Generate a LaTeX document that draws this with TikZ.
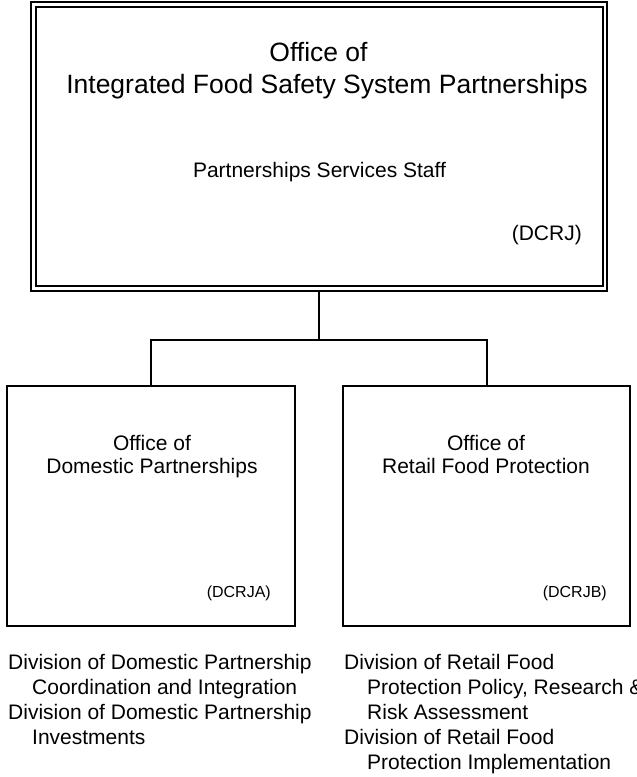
\documentclass[tikz,border=0pt]{standalone}
\usepackage{fontspec}
\setmainfont{Liberation Sans}
\begin{document}
\begin{tikzpicture}[x=1pt,y=-1pt,
  box/.style={draw=black,line width=2pt,minimum width=#1,inner sep=0pt,outer sep=0pt},
  bigtxt/.style={anchor=base,inner sep=0pt,font=\fontsize{26.5}{33}\selectfont},
  midtxt/.style={anchor=base,inner sep=0pt,font=\fontsize{21}{25}\selectfont},
  smalltxt/.style={anchor=base,inner sep=0pt,font=\fontsize{16}{19}\selectfont},
  listtxt/.style={anchor=base west,inner sep=0pt,font=\fontsize{21}{25}\selectfont},
  conn/.style={draw=black,line width=2pt}]
\useasboundingbox (0,0) rectangle (637,777);
\clip (0,0) rectangle (637,777);
% top box (double border)
\node[box=576pt,minimum height=289pt,line width=2.6pt] (top) at (319,146.5) {};
\node[box=567pt,minimum height=279pt,line width=1.8pt] (topin) at (319.5,146.5) {};
\node[bigtxt] (t1) at (318.5,61) {Office of};
\node[bigtxt] (t2) at (327,93) {Integrated Food Safety System Partnerships};
\node[midtxt] (t3) at (319.5,177) {Partnerships Services Staff};
\node[midtxt,anchor=base east] (t4) at (582,240) {(DCRJ)};
% lower boxes
\node[box=288pt,minimum height=240pt] (L) at (151,506) {};
\node[box=287pt,minimum height=240pt] (R) at (486.5,506) {};
\node[midtxt] (l1) at (152,450) {Office of};
\node[midtxt] (l2) at (152,473) {Domestic Partnerships};
\node[smalltxt,anchor=base east] (l3) at (271,597) {(DCRJA)};
\node[midtxt] (r1) at (486,450) {Office of};
\node[midtxt] (r2) at (486,473) {Retail Food Protection};
\node[smalltxt,anchor=base east] (r3) at (607,597) {(DCRJB)};
% connectors
\coordinate (j) at (319,340);
\draw[conn] (top.south) -- (j);
\draw[conn] (L.north) |- (j) -| (R.north);
% lists
\node[listtxt] (a1) at (8,669) {Division of Domestic Partnership};
\node[listtxt] (a2) at (32,694) {Coordination and Integration};
\node[listtxt] (a3) at (8,719) {Division of Domestic Partnership};
\node[listtxt] (a4) at (32,744) {Investments};
\node[listtxt] (b1) at (344,669) {Division of Retail Food};
\node[listtxt] (b2) at (367,694) {Protection Policy, Research \&};
\node[listtxt] (b3) at (367,719) {Risk Assessment};
\node[listtxt] (b4) at (344,744) {Division of Retail Food};
\node[listtxt] (b5) at (367,769) {Protection Implementation};
\end{tikzpicture}
\end{document}
